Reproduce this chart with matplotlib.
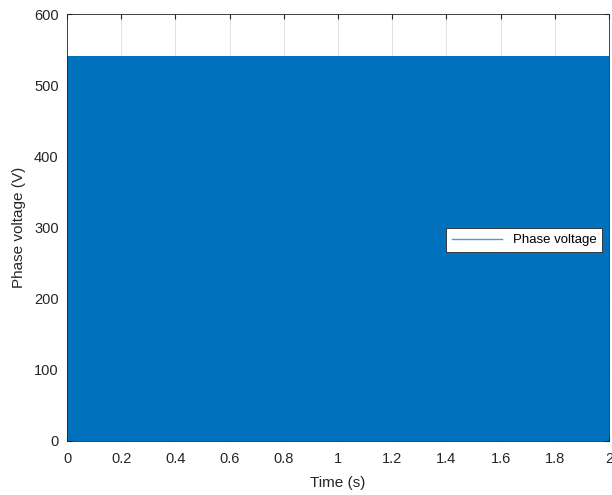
import numpy as np
import matplotlib.pyplot as plt

plt.rcParams['font.family'] = ['Liberation Sans', 'DejaVu Sans']

# PWM phase voltage: switches between 0 and the DC link level
v_dc = 540.0
v_low = 0.0
t_end = 2.0
n_cycles = 4000

xticks = [0, 0.2, 0.4, 0.6, 0.8, 1, 1.2, 1.4, 1.6, 1.8, 2]
xlabels = ['0', '0.2', '0.4', '0.6', '0.8', '1', '1.2', '1.4', '1.6', '1.8', '2']
yticks = [0, 100, 200, 300, 400, 500, 600]

# square wave: each cycle low then high
t_sq = np.repeat(np.linspace(0, t_end, 2 * n_cycles + 1), 2)[1:-1]
v_sq = np.repeat(np.tile([v_low, v_dc], n_cycles), 2)

fig = plt.figure(figsize=(6.12, 4.95), dpi=100)
ax = fig.add_axes([0.1095, 0.1091, 0.8856, 0.8626])
ax.plot(t_sq, v_sq, color='#0072BD', lw=0.6, label='Phase voltage')

ax.set_xlim(0, 2)
ax.set_ylim(0, 600)
ax.set_xticks(xticks)
ax.set_xticklabels(xlabels)
ax.set_yticks(yticks)
ax.grid(True, color='#dddddd', lw=0.6)
ax.set_axisbelow(True)
ax.tick_params(direction='in', top=True, right=True, labelsize=10.5, colors='#262626')
ax.tick_params(axis='x', pad=8)
ax.tick_params(axis='y', pad=6)
for s in ax.spines.values():
    s.set_color('#262626')
    s.set_linewidth(0.6)
ax.set_xlabel('Time (s)', fontsize=11, color='#262626', labelpad=7)
ax.set_ylabel('Phase voltage (V)', fontsize=11, color='#262626', labelpad=6)

leg = ax.legend(loc='center right', bbox_to_anchor=(1.0, 0.47), fontsize=9.5,
                fancybox=False, framealpha=1, edgecolor='#262626', handlelength=3.8,
                borderpad=0.45)
leg.get_frame().set_linewidth(0.6)
leg.get_lines()[0].set_linewidth(1.0)
leg.get_lines()[0].set_color('#4d9ad6')

fig.savefig('out.png', dpi=100)
